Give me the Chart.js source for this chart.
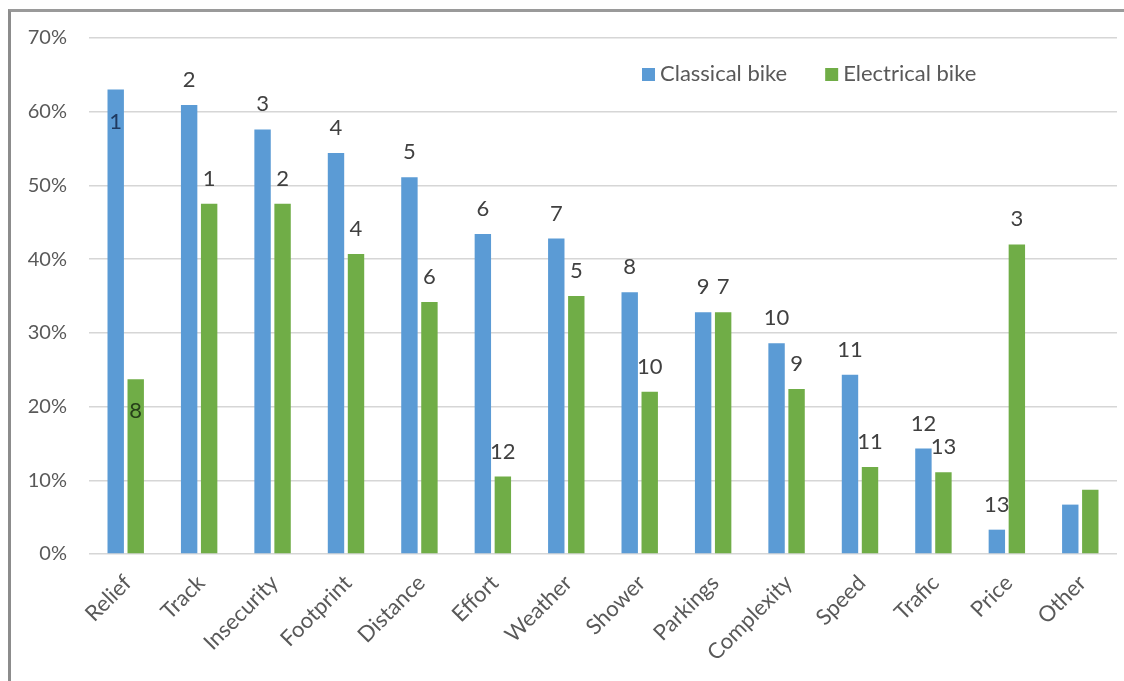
<!DOCTYPE html>
<html>
<head>
<meta charset="utf-8">
<script src="https://cdn.jsdelivr.net/npm/chart.js@4/dist/chart.umd.min.js"></script>
<style>
  html, body { margin: 0; padding: 0; background: #fff; }
  #cadre {
    position: absolute; left: 8px; top: 9px; width: 1116px; height: 672px;
    border-left: 3px solid #8c8c8c; border-top: 3px solid #9a9a9a;
  }
  canvas { position: absolute; left: 0; top: 0; }
</style>
</head>
<body>
<div id="cadre"></div>
<canvas id="graphique" width="1124" height="681"></canvas>
<script>
// Reasons given for not cycling, share of answers (%)
const raisons = [
  'Relief', 'Track', 'Insecurity', 'Footprint', 'Distance', 'Effort', 'Weather',
  'Shower', 'Parkings', 'Complexity', 'Speed', 'Trafic', 'Price', 'Other',
];

const veloClassique = [63, 60.9, 57.6, 54.4, 51.1, 43.4, 42.8, 35.5, 32.8, 28.6, 24.3, 14.3, 3.3, 6.7];
const veloElectrique = [23.7, 47.5, 47.5, 40.7, 34.2, 10.5, 35.0, 22.0, 32.8, 22.4, 11.8, 11.1, 42.0, 8.7];

// Rank of each reason within its series (none for "Other")
const rangClassique = [1, 2, 3, 4, 5, 6, 7, 8, 9, 10, 11, 12, 13, null];
const rangElectrique = [8, 1, 2, 4, 6, 12, 5, 10, 7, 9, 11, 13, 3, null];

const graduations = [0, 10, 20, 30, 40, 50, 60, 70];

const police = 'Lato, "Open Sans", sans-serif';

// Writes the rank above each bar (inside the bar for the first reason)
const etiquettesRang = {
  id: 'etiquettesRang',
  afterDatasetsDraw(chart) {
    const ctx = chart.ctx;
    const rangs = [rangClassique, rangElectrique];
    const couleursDedans = ['#1f3a60', '#27401a'];
    ctx.save();
    ctx.font = '22px ' + police;
    ctx.textAlign = 'center';
    ctx.textBaseline = 'middle';
    chart.data.datasets.forEach((ds, d) => {
      chart.getDatasetMeta(d).data.forEach((barre, i) => {
        const rang = rangs[d][i];
        if (rang === null) return;
        const dedans = i === 0;
        ctx.fillStyle = dedans ? couleursDedans[d] : '#404040';
        ctx.fillText(String(rang), barre.x, dedans ? barre.y + 32 : barre.y - 25);
      });
    });
    ctx.restore();
  }
};

// Legend drawn inside the plot area, top right
const legendeInterne = {
  id: 'legendeInterne',
  afterDraw(chart) {
    const ctx = chart.ctx;
    const zone = chart.chartArea;
    let x = zone.left + 553;
    const y = zone.top + 36;
    ctx.save();
    ctx.font = '22px ' + police;
    ctx.textBaseline = 'middle';
    ctx.textAlign = 'left';
    chart.data.datasets.forEach((ds) => {
      ctx.fillStyle = ds.backgroundColor;
      ctx.fillRect(x, y - 6, 13, 13);
      ctx.fillStyle = '#595959';
      ctx.fillText(ds.label, x + 18, y);
      x += 18 + ctx.measureText(ds.label).width + 38;
    });
    ctx.restore();
  }
};

const ctx = document.getElementById('graphique').getContext('2d');

new Chart(ctx, {
  type: 'bar',
  data: {
    labels: raisons,
    datasets: [
      {
        label: 'Classical bike',
        data: veloClassique,
        backgroundColor: '#5b9bd5',
        barPercentage: 0.82,
        categoryPercentage: 0.545,
      },
      {
        label: 'Electrical bike',
        data: veloElectrique,
        backgroundColor: '#70ad47',
        barPercentage: 0.82,
        categoryPercentage: 0.545,
      },
    ],
  },
  options: {
    responsive: false,
    animation: false,
    layout: {
      padding: { left: 25, right: 7, top: 38, bottom: 0 },
    },
    plugins: {
      legend: { display: false },
      tooltip: { enabled: false },
    },
    scales: {
      x: {
        grid: { display: false },
        border: { display: false },
        ticks: {
          color: '#595959',
          font: { family: police, size: 22 },
          minRotation: 45,
          maxRotation: 45,
          padding: 8,
          labelOffset: 2,
          autoSkip: false,
        },
        // fixed axis height, no extra side padding for the slanted labels
        afterFit: (axe) => {
          axe.height = 127;
          axe.paddingLeft = 0;
          axe.paddingRight = 0;
        },
      },
      y: {
        min: 0,
        max: 70,
        afterBuildTicks: (axe) => {
          axe.ticks = graduations.map((v) => ({ value: v }));
        },
        afterFit: (axe) => {
          axe.width = 64;
          axe.paddingTop = 0;
          axe.paddingBottom = 0;
        },
        grid: { color: '#d6d6d6', lineWidth: 1.5, drawTicks: false },
        border: { display: false },
        ticks: {
          color: '#595959',
          font: { family: police, size: 20 },
          padding: 22,
          callback: (v) => v + '%',
        },
      },
    },
  },
  plugins: [etiquettesRang, legendeInterne],
});
</script>
</body>
</html>
